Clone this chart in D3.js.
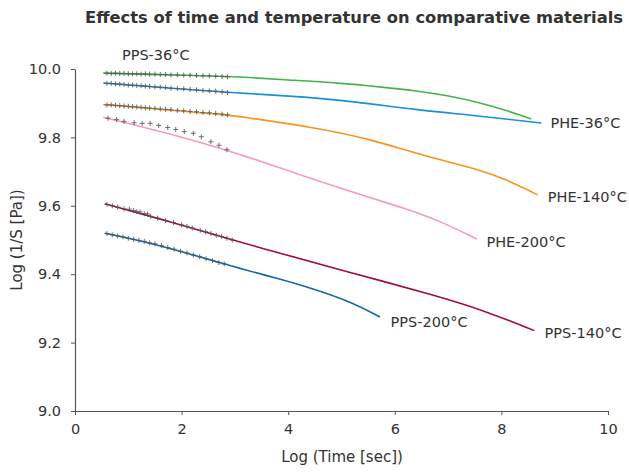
<!DOCTYPE html>
<html><head><meta charset="utf-8">
<script src="https://cdn.jsdelivr.net/npm/d3@7"></script>
<style>body{margin:0;background:#fff}text{font-family:"DejaVu Sans",sans-serif;fill:#333}</style>
</head><body><svg id="c" width="629" height="474"></svg>
<script>
const title = "Effects of time and temperature on comparative materials";
const xLabel = "Log (Time [sec])";
const yLabel = "Log (1/S [Pa])";
const xTicks = [0, 2, 4, 6, 8, 10];
const yTicks = [9.0, 9.2, 9.4, 9.6, 9.8, 10.0];

const seriesNames = ["green36", "blue36", "orange140", "pink200", "red140", "blue200"];
const seriesColors = ["#46b44a", "#1a90d8", "#f7941d", "#f59bc2", "#a00d3e", "#1668aa"];

const lineX = [
  [0.53, 1.5, 2.85, 3.09, 4.0, 4.97, 5.7, 6.47, 7.0, 7.59, 8.1, 8.56],
  [0.53, 1.5, 2.84, 3.09, 4.0, 4.97, 6.47, 7.46, 8.75],
  [0.53, 1.5, 2.84, 3.09, 4.59, 5.59, 6.47, 7.59, 8.1, 8.68],
  [0.53, 1.78, 3.09, 4.22, 5.53, 6.22, 6.84, 7.54],
  [0.56, 1.78, 2.97, 3.84, 4.97, 6.84, 7.72, 8.62],
  [0.56, 1.53, 2.84, 3.09, 3.84, 4.34, 5.15, 5.72]
];
const lineY = [
  [9.988, 9.984, 9.978, 9.977, 9.968, 9.959, 9.948, 9.935, 9.922, 9.902, 9.879, 9.854],
  [9.959, 9.947, 9.932, 9.930, 9.921, 9.910, 9.879, 9.865, 9.842],
  [9.896, 9.883, 9.866, 9.861, 9.827, 9.793, 9.749, 9.706, 9.676, 9.632],
  [9.859, 9.811, 9.752, 9.690, 9.624, 9.591, 9.556, 9.503],
  [9.606, 9.554, 9.499, 9.462, 9.413, 9.335, 9.291, 9.235],
  [9.520, 9.488, 9.428, 9.417, 9.386, 9.364, 9.322, 9.275]
];

const markX = [
  [0.60,0.68,0.76,0.84,0.92,1.00,1.08,1.16,1.24,1.32,1.40,1.50,1.60,1.70,1.80,1.92,2.04,2.16,2.28,2.40,2.52,2.64,2.76,2.86],
  [0.60,0.68,0.76,0.84,0.92,1.00,1.08,1.16,1.24,1.32,1.40,1.50,1.60,1.70,1.80,1.92,2.04,2.16,2.28,2.40,2.52,2.64,2.76,2.86],
  [0.60,0.68,0.76,0.84,0.92,1.00,1.08,1.16,1.24,1.32,1.40,1.50,1.60,1.70,1.80,1.92,2.04,2.16,2.28,2.40,2.52,2.64,2.76,2.86],
  [0.62,0.78,0.92,1.11,1.26,1.41,1.57,1.74,1.89,2.05,2.22,2.37,2.55,2.70,2.85],
  [0.60,0.70,0.80,0.92,1.02,1.10,1.16,1.22,1.30,1.36,1.42,1.55,1.70,1.85,2.00,2.10,2.20,2.35,2.45,2.55,2.65,2.75,2.85,2.95],
  [0.60,0.70,0.80,0.90,1.00,1.10,1.20,1.30,1.40,1.50,1.62,1.74,1.86,1.98,2.10,2.22,2.34,2.46,2.58,2.70,2.80]
];
const markY = [
  [9.988,9.987,9.988,9.987,9.987,9.986,9.986,9.986,9.985,9.986,9.985,9.985,9.984,9.984,9.983,9.983,9.982,9.982,9.981,9.980,9.980,9.979,9.978,9.977],
  [9.958,9.958,9.957,9.956,9.955,9.953,9.953,9.952,9.951,9.950,9.949,9.948,9.947,9.946,9.944,9.943,9.942,9.940,9.939,9.937,9.936,9.935,9.933,9.931],
  [9.895,9.895,9.894,9.893,9.892,9.891,9.890,9.889,9.888,9.887,9.886,9.885,9.883,9.882,9.881,9.879,9.878,9.876,9.875,9.873,9.872,9.870,9.868,9.866],
  [9.856,9.852,9.847,9.843,9.841,9.841,9.835,9.829,9.823,9.817,9.812,9.802,9.787,9.777,9.764],
  [9.604,9.600,9.596,9.591,9.590,9.586,9.583,9.582,9.577,9.576,9.569,9.564,9.557,9.551,9.544,9.540,9.535,9.528,9.524,9.519,9.514,9.510,9.505,9.500],
  [9.519,9.515,9.512,9.509,9.505,9.502,9.499,9.496,9.492,9.489,9.484,9.478,9.473,9.467,9.462,9.456,9.451,9.445,9.440,9.434,9.430]
];

const labelText = ["PPS-36°C", "PHE-36°C", "PHE-140°C", "PHE-200°C", "PPS-200°C", "PPS-140°C"];
const labelX = [0.88, 8.92, 8.87, 7.72, 5.92, 8.81];
const labelY = [10.04, 9.843, 9.627, 9.495, 9.261, 9.228];

const svg = d3.select("#c");
const x = d3.scaleLinear().domain([0, 10]).range([75, 608]);
const y = d3.scaleLinear().domain([9.0, 10.0]).range([411, 69]);

svg.append("text").attr("x", 354).attr("y", 23).attr("text-anchor", "middle")
  .attr("font-size", 15.5).attr("font-weight", "bold").attr("fill", "#111")
  .attr("textLength", 538).attr("lengthAdjust", "spacingAndGlyphs").text(title);

const xa = svg.append("g").attr("transform", "translate(0,411)")
  .call(d3.axisBottom(x).tickValues(xTicks).tickSize(4).tickSizeOuter(0).tickPadding(9).tickFormat(d3.format("d")));
const ya = svg.append("g").attr("transform", "translate(75,0)")
  .call(d3.axisLeft(y).tickValues(yTicks).tickSize(4).tickSizeOuter(0).tickPadding(10).tickFormat(d3.format(".1f")));
[xa, ya].forEach(a => {
  a.select(".domain").attr("stroke", "#555").attr("stroke-width", 1.2);
  a.selectAll(".tick line").attr("stroke", "#555");
  a.selectAll(".tick text").attr("font-size", 14.5).attr("fill", "#333").style("font-family", '"DejaVu Sans",sans-serif');
});

svg.append("text").attr("x", 342).attr("y", 462).attr("text-anchor", "middle").attr("font-size", 15).text(xLabel);
svg.append("text").attr("transform", "translate(22,240) rotate(-90)").attr("text-anchor", "middle").attr("font-size", 15).text(yLabel);

const line = d3.line().x(d => x(d[0])).y(d => y(d[1])).curve(d3.curveBasis);
seriesNames.forEach((n, i) => {
  const pts = lineX[i].map((v, j) => [v, lineY[i][j]]);
  svg.append("path").datum(pts).attr("d", line).attr("fill", "none")
    .attr("stroke", seriesColors[i]).attr("stroke-width", 1.6);
});
seriesNames.forEach((n, i) => {
  const pts = markX[i].map((v, j) => [v, markY[i][j]]);
  svg.append("g").selectAll("path").data(pts).join("path")
    .attr("d", d => `M${x(d[0]) - 2.5},${y(d[1])}h5M${x(d[0])},${y(d[1]) - 2.5}v5`)
    .attr("stroke", "#555").attr("stroke-width", 1).attr("opacity", 0.85);
});

labelText.forEach((t, i) => {
  svg.append("text").attr("x", x(labelX[i])).attr("y", y(labelY[i])).attr("dy", "0.35em")
    .attr("font-size", 14.5).text(t);
});
</script></body></html>
